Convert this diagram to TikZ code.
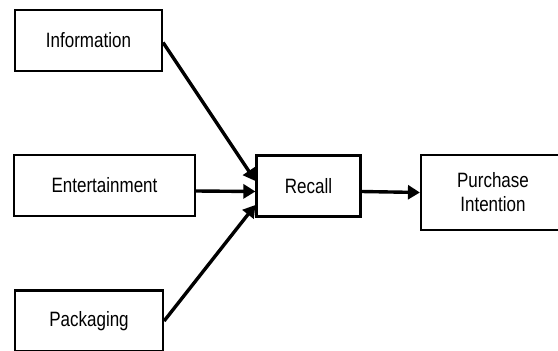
\documentclass[tikz,border=0pt]{standalone}
\usepackage{graphicx}
\usepackage{fontspec}
\setmainfont{Liberation Sans}
\usetikzlibrary{arrows.meta}

\newcommand{\tall}[1]{\scalebox{1}[1.22]{#1}}

\begin{document}
\begin{tikzpicture}[x=1pt,y=-1pt,
    box/.style={draw,black,line width=2.2pt,minimum height=61pt,inner sep=0pt,
      align=center,font=\fontsize{17}{24}\selectfont},
    link/.style={black,line width=3.4pt,-{Triangle[length=12pt,width=14pt]}}]

      \useasboundingbox (0,0) rectangle (558,351);

      \node[box,minimum width=147pt] (info) at (88.5,40.5) {\tall{Information}};
      \node[box,minimum width=181pt] (ent) at (104.5,185.5) {\tall{Entertainment}};
      \node[box,minimum width=148pt] (pack) at (89,321) {\tall{Packaging}};
      \node[box,minimum width=104pt] (recall) at (308.5,186) {\tall{Recall}};
      \node[box,minimum width=144pt,minimum height=75pt] (purch) at (493,192.5) {\tall{Purchase}\\\tall{Intention}};

      \draw[link] ([yshift=-2pt]info.east) -- ([yshift=5pt]recall.west);
      \draw[link] ([yshift=-5.5pt]ent.east) -- ([yshift=-5.5pt]recall.west);
      \draw[link] (pack.east) -- ([yshift=-19pt]recall.west);
      \draw[link] ([yshift=-5.5pt]recall.east) -- (purch.west);

    \end{tikzpicture}
\end{document}
